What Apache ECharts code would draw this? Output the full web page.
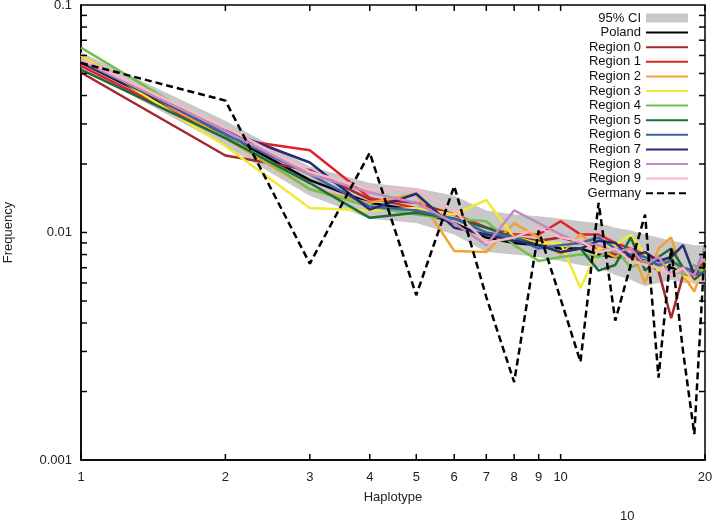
<!DOCTYPE html>
<html>
<head>
<meta charset="utf-8">
<script src="https://cdn.jsdelivr.net/npm/echarts@6/dist/echarts.min.js"></script>
<style>
html,body{margin:0;padding:0;background:#fff;}
#chart{width:714px;height:522px;}
</style>
</head>
<body>
<div id="chart"></div>
<script>
const haplotypes = [1,2,3,4,5,6,7,8,9,10,11,12,13,14,15,16,17,18,19,20];
const ciUpper = [0.062,0.031,0.0195,0.0165,0.0157,0.0145,0.0125,0.012,0.0118,0.0115,0.0112,0.011,0.0105,0.0102,0.0098,0.0095,0.0092,0.009,0.0088,0.0088];
const ciLower = [0.053,0.024,0.0145,0.0115,0.011,0.0098,0.0082,0.008,0.0078,0.0075,0.0072,0.007,0.0065,0.0062,0.0058,0.006,0.0062,0.006,0.006,0.006];
const poland  = [0.056,0.027,0.017,0.0135,0.0125,0.011,0.0095,0.009,0.0088,0.0085,0.0085,0.008,0.0078,0.0078,0.0075,0.0072,0.007,0.0068,0.0066,0.0065];
const region0 = [0.0505,0.0218,0.0188,0.014,0.0135,0.012,0.0105,0.0095,0.0092,0.0095,0.009,0.0085,0.008,0.0078,0.0075,0.0068,0.0042,0.0065,0.0065,0.0075];
const region1 = [0.054,0.026,0.023,0.0142,0.0128,0.012,0.0105,0.0098,0.0098,0.0112,0.0098,0.0098,0.009,0.0085,0.008,0.0075,0.0075,0.007,0.0065,0.0068];
const region2 = [0.06,0.026,0.0155,0.0135,0.0148,0.0083,0.0082,0.011,0.0095,0.008,0.0098,0.0085,0.0078,0.0085,0.006,0.0085,0.0095,0.0065,0.0055,0.0075];
const region3 = [0.06,0.024,0.0128,0.0125,0.0128,0.012,0.0139,0.0095,0.009,0.009,0.0057,0.0085,0.0088,0.0098,0.008,0.0068,0.0075,0.0065,0.006,0.007];
const region4 = [0.065,0.027,0.0155,0.013,0.012,0.0115,0.0112,0.0088,0.0075,0.0078,0.008,0.0078,0.0085,0.007,0.0075,0.007,0.0078,0.0065,0.0072,0.0065];
const region5 = [0.052,0.026,0.0165,0.0116,0.0122,0.0115,0.0105,0.0095,0.0088,0.0082,0.0085,0.0068,0.0072,0.0095,0.0068,0.0078,0.0085,0.007,0.0062,0.0068];
const region6 = [0.058,0.027,0.018,0.013,0.0125,0.0115,0.01,0.0095,0.0085,0.0088,0.009,0.0095,0.0085,0.008,0.0078,0.0072,0.0075,0.007,0.0068,0.0065];
const region7 = [0.056,0.028,0.0203,0.0126,0.0148,0.0105,0.0098,0.0092,0.0088,0.0082,0.0085,0.0092,0.009,0.0078,0.0082,0.0075,0.0078,0.0088,0.0065,0.0085];
const region8 = [0.057,0.028,0.018,0.015,0.0135,0.011,0.0088,0.0125,0.011,0.0098,0.009,0.0088,0.0082,0.0085,0.0072,0.0078,0.0065,0.0068,0.0065,0.0085];
const region9 = [0.058,0.029,0.0185,0.0155,0.0155,0.0125,0.009,0.0095,0.0105,0.0095,0.0092,0.0082,0.0085,0.0075,0.0072,0.007,0.0065,0.007,0.006,0.0065];
const germany = [0.0556,0.038,0.0073,0.0224,0.0053,0.016,0.0052,0.0022,0.0102,0.0051,0.0027,0.0135,0.0041,0.0072,0.012,0.0023,0.0085,0.003,0.0013,0.0088];
const xTickLabels = [1,2,3,4,5,6,7,8,9,10,20];
const yMinorTicks = [0.002,0.003,0.004,0.005,0.006,0.007,0.008,0.009,0.02,0.03,0.04,0.05,0.06,0.07,0.08,0.09];
const regionNames = ['Region 0','Region 1','Region 2','Region 3','Region 4','Region 5','Region 6','Region 7','Region 8','Region 9'];
const regionColors = ['#a3282c','#e3202a','#f4a22f','#f1e934','#72c04e','#1f6a38','#3b63ad','#262b72','#c48ac0','#f6b8c3'];
const regionData = [region0,region1,region2,region3,region4,region5,region6,region7,region8,region9];

const FONT = '"Liberation Sans", Arial, sans-serif';
const chart = echarts.init(document.getElementById('chart'), null, {renderer:'canvas'});

const pts = arr => haplotypes.map((x,i) => [x, arr[i]]);

const series = [];
series.push({
  name: '95% CI', type: 'custom', z: 1,
  itemStyle: {color: '#c8c8c8'},
  data: haplotypes.map((x,i) => [x, ciLower[i], ciUpper[i]]),
  renderItem: function(params, api) {
    if (params.dataIndex !== 0) return null;
    const poly = [];
    for (let i = 0; i < haplotypes.length; i++) poly.push(api.coord([haplotypes[i], ciUpper[i]]));
    for (let i = haplotypes.length - 1; i >= 0; i--) poly.push(api.coord([haplotypes[i], ciLower[i]]));
    return {type: 'polygon', shape: {points: poly}, style: {fill: '#c8c8c8'}};
  }
});
series.push({name:'Poland', type:'line', data: pts(poland), symbol:'none', z:2,
  lineStyle:{color:'#000', width:2.5}, itemStyle:{color:'#000'}});
regionData.forEach((arr, k) => {
  series.push({name: regionNames[k], type:'line', data: pts(arr), symbol:'none', z:3,
    lineStyle:{color: regionColors[k], width:2.5}, itemStyle:{color: regionColors[k]}});
});
series.push({name:'Germany', type:'line', data: pts(germany), symbol:'none', z:4,
  lineStyle:{color:'#000', width:2.5, type:[7,4]}, itemStyle:{color:'#000'}});

// tick marks and x tick labels
series.push({
  name: '_ticks', type: 'custom', z: 10, silent: true,
  data: [[1, 0.01]],
  renderItem: function(params, api) {
    const ch = [];
    const L = 6;
    xTickLabels.forEach(t => {
      const b = api.coord([t, 0.001]);
      const tp = api.coord([t, 0.1]);
      ch.push({type:'line', shape:{x1:b[0], y1:b[1], x2:b[0], y2:b[1]-L}, style:{stroke:'#000', lineWidth:1.5}});
      ch.push({type:'line', shape:{x1:tp[0], y1:tp[1], x2:tp[0], y2:tp[1]+L}, style:{stroke:'#000', lineWidth:1.5}});
      ch.push({type:'text', style:{text:String(t), x:b[0], y:b[1]+11, align:'center', verticalAlign:'top',
        fontSize:13, fontFamily:FONT, fill:'#222'}});
    });
    yMinorTicks.concat([0.01]).forEach(t => {
      const l = api.coord([1, t]);
      const r = api.coord([20, t]);
      ch.push({type:'line', shape:{x1:l[0], y1:l[1], x2:l[0]+L, y2:l[1]}, style:{stroke:'#000', lineWidth:1.5}});
      ch.push({type:'line', shape:{x1:r[0], y1:r[1], x2:r[0]-L, y2:r[1]}, style:{stroke:'#000', lineWidth:1.5}});
    });
    return {type:'group', children: ch};
  }
});

chart.setOption({
  animation: false,
  backgroundColor: '#fff',
  grid: {left: 81, right: 9, top: 5, bottom: 62, containLabel: false, outerBoundsMode: 'none',
    show: true, borderColor: '#000', borderWidth: 1.5, backgroundColor: 'transparent'},
  xAxis: {
    type: 'log', logBase: 10, min: 1, max: 20,
    name: 'Haplotype', nameLocation: 'middle', nameGap: 31,
    nameTextStyle: {fontSize: 13, fontFamily: FONT, color: '#222'},
    axisLine: {show: true, lineStyle: {color: '#000', width: 1.5}},
    axisTick: {show: false}, axisLabel: {show: false}, splitLine: {show: false}
  },
  yAxis: {
    type: 'log', logBase: 10, min: 0.001, max: 0.1,
    name: 'Frequency', nameLocation: 'middle', nameGap: 66,
    nameTextStyle: {fontSize: 13, fontFamily: FONT, color: '#222'},
    axisLine: {show: true, lineStyle: {color: '#000', width: 1.5}},
    axisTick: {show: false}, splitLine: {show: false},
    axisLabel: {fontSize: 13, fontFamily: FONT, color: '#222', margin: 9,
      formatter: v => String(parseFloat(Number(v).toPrecision(3)))}
  },
  legend: {
    orient: 'vertical', right: 20, top: 6, align: 'right',
    itemWidth: 42, itemHeight: 9, itemGap: 0.6,
    itemStyle: {opacity: 0},
    textStyle: {fontSize: 13, lineHeight: 14, fontFamily: FONT, color: '#111'},
    data: [{name: '95% CI', icon: 'rect', itemStyle: {color: '#c8c8c8', opacity: 1}}, 'Poland'].concat(regionNames).concat(['Germany'])
  },
  graphic: [{type: 'text', left: 620, top: 510, style: {text: '10', fontSize: 13, fontFamily: FONT, fill: '#222'}}],
  series: series
});
</script>
</body>
</html>
